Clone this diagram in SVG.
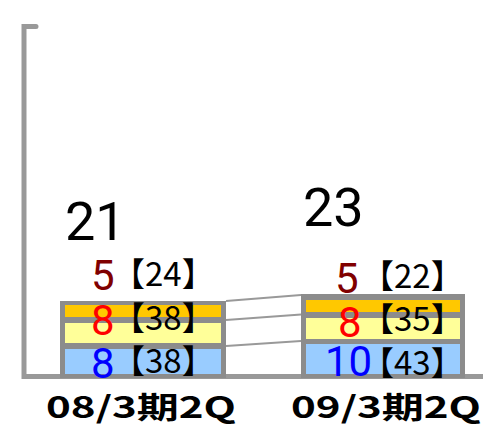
<svg xmlns="http://www.w3.org/2000/svg" width="483" height="427" viewBox="0 0 483 427">
<style>
.frame{fill:#8c8c8c}
.or{fill:#ffc800}
.ye{fill:#ffff99}
.bl{fill:#99ccff}
.axis{stroke:#999999;stroke-width:5;stroke-linecap:round;fill:none}
.conn{stroke:#999999;stroke-width:2;fill:none}
.tot{font-family:Roboto,"Noto Sans",sans-serif;font-size:54px;fill:#000}
.num{font-family:Roboto,"Noto Sans",sans-serif;font-size:42px}
.br{font-family:"Noto Sans CJK JP",sans-serif;font-size:33px;fill:#000}
.lab{font-family:"Noto Sans CJK JP",sans-serif;font-size:30px;font-weight:bold;fill:#000}
</style>
<g id="axis">
<path class="axis" d="M36 26.5H24V376.5H483"/>
</g>
<g id="connectors">
<line class="conn" x1="226" y1="301" x2="301" y2="295"/>
<line class="conn" x1="226" y1="320" x2="301" y2="314.5"/>
<line class="conn" x1="226" y1="346" x2="301" y2="341"/>
</g>
<g id="bar1">
<rect class="frame" x="60" y="301" width="166" height="77"/>
<rect class="or" x="65" y="305" width="156" height="12"/>
<rect class="ye" x="65" y="323" width="156" height="20"/>
<rect class="bl" x="65" y="349" width="156" height="25"/>
</g>
<g id="bar2">
<rect class="frame" x="301" y="294" width="164" height="84"/>
<rect class="or" x="306" y="300" width="154" height="12"/>
<rect class="ye" x="306" y="318" width="154" height="21"/>
<rect class="bl" x="306" y="344" width="154" height="30"/>
</g>
<g id="bar1-labels">
<text class="tot" x="65" y="240">21</text>
<text class="num" x="91" y="290" fill="#800000">5</text>
<text class="br" x="112" y="286">【24】</text>
<text class="num" x="91" y="335" fill="#ff0000">8</text>
<text class="br" x="112" y="330">【38】</text>
<text class="num" x="91" y="378" fill="#0000ff">8</text>
<text class="br" x="112" y="373">【38】</text>
</g>
<g id="bar2-labels">
<text class="tot" x="303" y="226">23</text>
<text class="num" x="335" y="293" fill="#800000">5</text>
<text class="br" x="361" y="288">【22】</text>
<text class="num" x="338" y="337" fill="#ff0000">8</text>
<text class="br" x="361" y="331">【35】</text>
<text class="num" x="325" y="376" fill="#0000ff">10</text>
<text class="br" x="361" y="375">【43】</text>
</g>
<g id="categories">
<text class="lab" x="46" y="418" textLength="190" lengthAdjust="spacingAndGlyphs">08/3期2Q</text>
<text class="lab" x="291" y="418" textLength="190" lengthAdjust="spacingAndGlyphs">09/3期2Q</text>
</g>
</svg>
